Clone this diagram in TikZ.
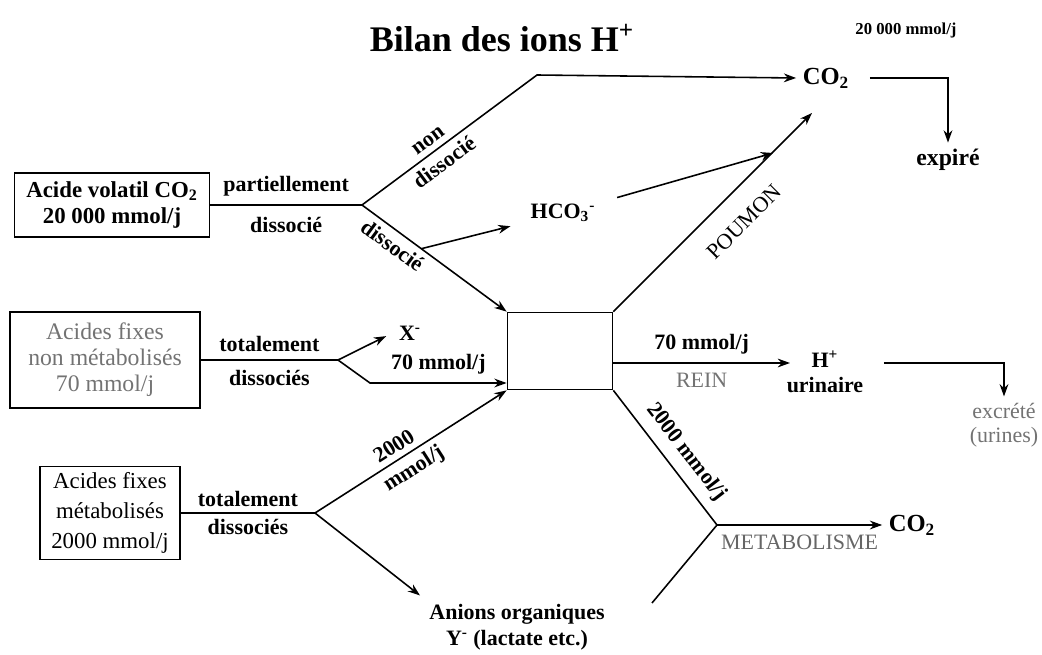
\documentclass[tikz,border=0pt]{standalone}
\usepackage{fontspec}
\setmainfont{Liberation Serif}
\usetikzlibrary{arrows.meta}

\tikzset{
	txt/.style={font=\bfseries\fontsize{12.5}{14.5}\selectfont},
	pale/.style={font=\fontsize{12.5}{14.5}\selectfont, text=black!55},
	boite/.style={draw, line width=1pt, align=center, inner sep=2pt},
}

\begin{document}
\begin{tikzpicture}[x=0.02cm, y=-0.02cm, line width=0.9pt, >={Stealth[length=7pt,width=5pt]}]
			%%%%% START %%%%%
			\useasboundingbox (0,0) rectangle (1042,655);
			
			\node[font=\bfseries\fontsize{20.5}{24}\selectfont] (titre) at (502,38) {Bilan des ions H\textsuperscript{+}};
			
			%%%%% sources
			\node[boite, txt, font=\bfseries\fontsize{13}{15}\selectfont, minimum width=3.9cm, minimum height=1.28cm] (volatil) at (112,205) {Acide volatil CO\textsubscript{2}\\20 000 mmol/j};
			\node[boite, font=\fontsize{13.5}{14.8}\selectfont, text=black!55, minimum width=3.8cm, minimum height=1.92cm] (nonmetab) at (105,360) {Acides fixes\\non métabolisés\\70 mmol/j};
			\node[boite, font=\fontsize{13}{17}\selectfont, minimum width=2.8cm, minimum height=1.86cm] (metab) at (110,513) {Acides fixes\\métabolisés\\2000 mmol/j};
			
			\node[draw, line width=1pt, minimum width=2.1cm, minimum height=1.54cm] (milieu) at (560,351) {};
			
			%%%%% CO2
			\coordinate (b1) at (362,205);
			\coordinate (c1) at (537,75);
			\node[txt, font=\bfseries\fontsize{14}{16}\selectfont] (co2haut) at (826,78) {CO\textsubscript{2}};
			\node[txt, font=\bfseries\fontsize{9.5}{11}\selectfont] (flux) at (906,30) {20 000 mmol/j};
			\node[txt, font=\bfseries\fontsize{13.5}{16}\selectfont] (expire) at (948,160) {expiré};
			\node[txt] (hco) at (563,213) {HCO\textsubscript{3}\textsuperscript{-}};
			
			\draw (volatil.east) -- node[txt, above=1pt] {partiellement} node[txt, below=3pt] {dissocié} (b1);
			\draw[->] (b1) -- node[txt, sloped, above, pos=0.42] {non} node[txt, sloped, below, pos=0.42] {dissocié} (c1) -- (co2haut.west);
			\draw[->] (b1) -- node[txt, sloped, below, pos=0.27] {dissocié} coordinate[pos=0.41] (d1) (milieu.north west);
			\draw[->, shorten >=8pt] (d1) -- (hco);
			
			\coordinate (p1) at (773,153);
			\coordinate (p2) at (812,113);
			\draw[->, shorten <=9pt] (hco) -- (p1);
			\draw[->] (milieu.north east) -- (p2);
			\node[font=\fontsize{12.5}{14}\selectfont, rotate=45] (poumon) at (744,222) {POUMON};
			
			\draw[->, shorten <=8pt] (co2haut.east) -- (co2haut.east -| expire.north) -- (expire.north);
			
			%%%%% acides fixes non metabolises
			\coordinate (b2) at (338,360);
			\coordinate (b2b) at (370,383);
			\node[txt] (xm) at (410,333) {X\textsuperscript{-}};
			
			\draw (nonmetab.east) -- node[txt, above=1pt] {totalement} node[txt, below=2pt] {dissociés} (b2);
			\draw[->, shorten >=4pt] (b2) -- (xm.west);
			\draw[->] (b2) -- (b2b) -- node[txt, above=1pt] {70 mmol/j} (milieu.west |- b2b);
			
			%%%%% rein
			\node[txt, align=center] (hplus) at (825,372) {H\textsuperscript{+}\\urinaire};
			\node[pale, align=center, font=\fontsize{12.5}{13.6}\selectfont] (excrete) at (1004,425) {excrété\\(urines)};
			\coordinate (rein) at (790,363);
			
			\draw[->] (milieu.east |- rein) -- node[txt, above=1pt] {70 mmol/j} node[pale, below=2pt] {REIN} (rein);
			\draw[->, shorten <=8pt] (hplus.east |- rein) -- (rein -| excrete) -- (excrete.north);
			
			%%%%% acides fixes metabolises
			\coordinate (b3) at (315,513);
			\coordinate (j1) at (717,525);
			\coordinate (a1) at (652,603);
			\node[txt, font=\bfseries\fontsize{14}{16}\selectfont] (co2bas) at (912,525) {CO\textsubscript{2}};
			\node[txt, align=center] (anions) at (517,627) {Anions organiques\\Y\textsuperscript{-} (lactate etc.)};
			
			\draw (metab.east) -- node[txt, above] {totalement} node[txt, below] {dissociés} (b3);
			\draw[->] (b3) -- node[txt, sloped, above, pos=0.45] {2000} node[txt, sloped, below, pos=0.47] {mmol/j} (milieu.south west);
			\draw[->, shorten >=2pt] (b3) -- (anions.north west);
			
			\draw (milieu.south east) -- node[txt, sloped, above=2pt, pos=0.55] {2000 mmol/j} (j1);
			\draw (a1) -- (j1);
			\draw[->] (j1) -- node[pale, below=2pt, text=black!60] {METABOLISME} (co2bas.west);
			
			%%%%% END %%%%%
\end{tikzpicture}
\end{document}
